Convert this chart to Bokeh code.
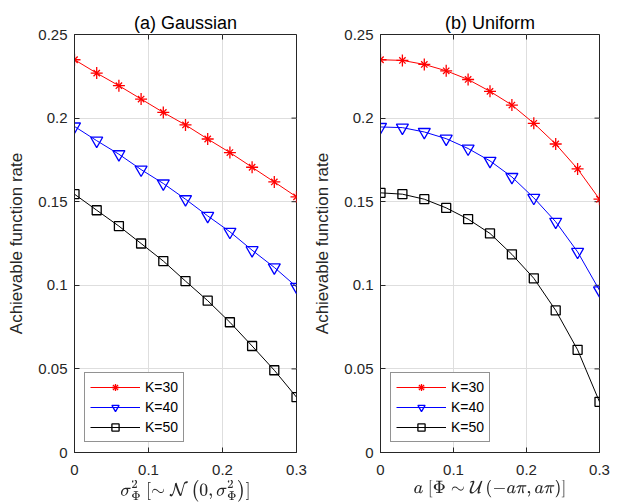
import math
from bokeh.plotting import figure
from bokeh.layouts import row
from bokeh.models import (Range1d, FixedTicker, CustomJSTickFormatter, Legend, LegendItem)
from bokeh.embed import file_html
from bokeh.resources import INLINE

# ---------------- data ----------------
x_vals = [0, 0.03, 0.06, 0.09, 0.12, 0.15, 0.18, 0.21, 0.24, 0.27, 0.30]

gauss_k30 = [0.2349, 0.2269, 0.2194, 0.2114, 0.2034, 0.1959, 0.1875, 0.1794, 0.1706, 0.1618, 0.1529]
gauss_k40 = [0.1950, 0.1865, 0.1784, 0.1692, 0.1609, 0.1515, 0.1415, 0.1320, 0.1210, 0.1107, 0.0991]
gauss_k50 = [0.1545, 0.1449, 0.1354, 0.1250, 0.1145, 0.1025, 0.0908, 0.0779, 0.0637, 0.0492, 0.0331]

unif_k30 = [0.2349, 0.2345, 0.2321, 0.2283, 0.2231, 0.2160, 0.2078, 0.1969, 0.1845, 0.1696, 0.1515]
unif_k40 = [0.1947, 0.1943, 0.1917, 0.1877, 0.1818, 0.1744, 0.1648, 0.1523, 0.1380, 0.1200, 0.0970]
unif_k50 = [0.1553, 0.1545, 0.1515, 0.1463, 0.1396, 0.1310, 0.1185, 0.1042, 0.0850, 0.0614, 0.0303]

series_labels = ["K=30", "K=40", "K=50"]
x_ticks = [0, 0.1, 0.2, 0.3]
y_ticks = [0, 0.05, 0.1, 0.15, 0.2, 0.25]
x_lim = (0, 0.3)
y_lim = (0, 0.25)

titles = ["(a) Gaussian", "(b) Uniform"]
x_labels = [r"$$\sigma_{\Phi}^{2}\ [\sim \mathcal{N}\left(0,\sigma_{\Phi}^{2}\right)]$$",
            r"$$a\ [\Phi \sim \mathcal{U}\left(-a\pi, a\pi\right)]$$"]
y_label = "Achievable function rate"

FONT = "Liberation Sans"
AX = "#262626"
GRID = "#dedede"


def make_panel(title, xlabel, k30, k40, k50, width, mbl, mbr):
    p = figure(width=width, height=504, output_backend="svg", toolbar_location=None,
               x_range=Range1d(*x_lim), y_range=Range1d(*y_lim),
               min_border_left=mbl, min_border_right=mbr,
               min_border_top=34, min_border_bottom=51)
    p.background_fill_color = "white"
    p.border_fill_color = "white"
    p.outline_line_color = AX
    p.outline_line_width = 1

    p.title.text = title
    p.title.align = "center"
    p.title.text_font = FONT
    p.title.text_font_size = "18px"
    p.title.text_font_style = "normal"
    p.title.text_color = "black"
    p.title.standoff = 4

    fmt = CustomJSTickFormatter(code="return (Math.round(tick*1000)/1000).toString();")
    for ax, ticks in ((p.xaxis[0], x_ticks), (p.yaxis[0], y_ticks)):
        ax.ticker = FixedTicker(ticks=ticks)
        ax.formatter = fmt
        ax.major_tick_in = 5
        ax.major_tick_out = 0
        ax.minor_tick_in = 0
        ax.minor_tick_out = 0
        ax.axis_line_color = AX
        ax.major_tick_line_color = AX
        ax.major_label_text_font = FONT
        ax.major_label_text_font_size = "15px"
        ax.major_label_text_color = AX
        ax.axis_label_text_color = AX
        ax.axis_label_text_font = FONT
        ax.axis_label_text_font_style = "normal"
    p.yaxis[0].major_label_standoff = 7
    p.xaxis[0].major_label_standoff = 12
    p.xaxis[0].axis_label = xlabel
    p.xaxis[0].axis_label_text_font_size = "15px"
    p.xaxis[0].axis_label_standoff = 2
    p.yaxis[0].axis_label = y_label
    p.yaxis[0].axis_label_text_font_size = "17px"
    p.yaxis[0].axis_label_standoff = 9

    # mirrored inward ticks on the right and top edges (box on)
    p.ray(x=[x_lim[1]] * len(y_ticks), y=y_ticks, length=5, length_units="screen",
          angle=math.pi, line_color=AX, line_width=1)
    p.ray(x=x_ticks, y=[y_lim[1]] * len(x_ticks), length=5, length_units="screen",
          angle=-math.pi / 2, line_color=AX, line_width=1)

    p.xgrid.ticker = FixedTicker(ticks=x_ticks)
    p.ygrid.ticker = FixedTicker(ticks=y_ticks)
    p.grid.grid_line_color = GRID
    p.grid.grid_line_width = 1

    items = []
    # K=30: red asterisk (plus + x)
    l1 = p.line(x_vals, k30, line_color="red", line_width=1)
    s1a = p.scatter(x_vals, k30, marker="cross", size=12, line_color="red", line_width=1.3)
    s1b = p.scatter(x_vals, k30, marker="x", size=9, line_color="red", line_width=1.3)
    items.append(LegendItem(label=series_labels[0], renderers=[l1, s1a, s1b]))
    # K=40: blue down-triangle
    l2 = p.line(x_vals, k40, line_color="blue", line_width=1)
    s2 = p.scatter(x_vals, k40, marker="inverted_triangle", size=12, line_color="blue",
                   fill_color=None, line_width=1.3)
    items.append(LegendItem(label=series_labels[1], renderers=[l2, s2]))
    # K=50: black square
    l3 = p.line(x_vals, k50, line_color="black", line_width=1)
    s3 = p.scatter(x_vals, k50, marker="square", size=9, line_color="black",
                   fill_color=None, line_width=1.3)
    items.append(LegendItem(label=series_labels[2], renderers=[l3, s3]))

    leg = Legend(items=items, location=(10, 10), glyph_width=50, glyph_height=18,
                 label_height=18, spacing=2, padding=5, label_standoff=5,
                 label_text_font=FONT, label_text_font_size="14px", label_text_color="black",
                 border_line_color=AX, border_line_width=1, background_fill_color="white",
                 background_fill_alpha=1.0)
    p.add_layout(leg, "center")
    return p


p1 = make_panel(titles[0], x_labels[0], gauss_k30, gauss_k40, gauss_k50, 310, 74, 14)
p2 = make_panel(titles[1], x_labels[1], unif_k30, unif_k40, unif_k50, 306, 66, 17)

layout = row(p1, p2)
open("out.html", "w").write(file_html(layout, INLINE))
